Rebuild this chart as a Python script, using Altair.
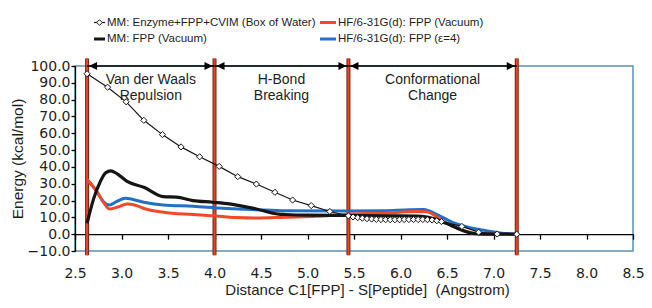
import altair as alt
import pandas as pd

# ---------------- data ----------------
SERIES = ["MM: Enzyme+FPP+CVIM (Box of Water)", "MM: FPP (Vacuum)",
          "HF/6-31G(d): FPP (Vacuum)", "HF/6-31G(d): FPP (\u03b5=4)"]

mm_box_x = [2.63, 2.85, 3.05, 3.24, 3.44, 3.64, 3.84, 4.05, 4.25, 4.45, 4.65, 4.84, 5.04, 5.24, 5.44,
            5.49, 5.54, 5.59, 5.64, 5.69, 5.74, 5.79, 5.84, 5.89, 5.94, 5.99, 6.04, 6.09, 6.14, 6.19,
            6.24, 6.29, 6.34, 6.39, 6.44, 6.66, 6.84, 7.04, 7.25]
mm_box_y = [95.4, 87.4, 78.7, 67.7, 59.2, 51.9, 46.0, 40.3, 34.2, 29.8, 24.9, 20.3, 17.0, 13.5, 10.9,
            10.2, 9.8, 9.5, 9.2, 9.0, 8.8, 8.7, 8.6, 8.6, 8.6, 8.6, 8.7, 8.7, 8.7, 8.7,
            8.7, 8.6, 8.4, 8.0, 7.5, 4.6, 1.2, 0.1, 0.0]

mm_fpp_x = [2.63, 2.70, 2.77, 2.83, 2.885, 2.95, 3.06, 3.24, 3.45, 3.59, 3.77, 3.98, 4.16, 4.44,
            4.69, 4.76, 5.00, 5.43, 5.82, 6.17, 6.30, 6.49, 6.67, 6.80, 7.00, 7.25]
mm_fpp_y = [6.5, 21.0, 31.0, 36.5, 37.7, 36.0, 31.4, 27.9, 22.3, 22.0, 20.0, 19.0, 18.0, 15.1,
            11.9, 11.7, 11.3, 11.1, 10.9, 10.8, 10.0, 6.5, 2.2, 0.3, 0.0, 0.0]

hf_vac_x = [2.63, 2.74, 2.80, 2.87, 2.95, 3.06, 3.15, 3.24, 3.45, 3.77, 4.09, 4.23, 4.45, 4.76,
            5.10, 5.43, 5.82, 6.17, 6.28, 6.45, 6.67, 6.85, 7.05]
hf_vac_y = [32.5, 24.9, 19.5, 15.0, 16.0, 18.0, 17.2, 15.3, 13.1, 11.7, 10.5, 9.9, 9.6, 10.1,
            10.6, 11.9, 12.5, 13.5, 13.4, 8.0, 2.2, 0.2, 0.0]

hf_eps_x = [2.63, 2.74, 2.80, 2.87, 2.95, 3.04, 3.24, 3.45, 3.77, 4.09, 4.44, 4.76, 5.43, 5.82,
            6.10, 6.25, 6.40, 6.56, 6.67, 6.80, 6.91, 7.09, 7.25]
hf_eps_y = [32.5, 24.9, 19.6, 17.4, 19.5, 21.3, 19.0, 17.4, 16.6, 15.4, 14.6, 13.9, 13.8, 14.0,
            14.6, 14.7, 11.5, 7.0, 5.0, 3.2, 2.2, 0.6, 0.0]

boundaries = [2.63, 4.0, 5.44, 7.25]
region_labels = ["Van der Waals\nRepulsion", "H-Bond\nBreaking", "Conformational\nChange"]

x_ticks = [2.5, 3.0, 3.5, 4.0, 4.5, 5.0, 5.5, 6.0, 6.5, 7.0, 7.5, 8.0, 8.5]
y_ticks = [-10, 0, 10, 20, 30, 40, 50, 60, 70, 80, 90, 100]

X_TITLE = "Distance C1[FPP] - S[Peptide]\u00a0 (Angstrom)"
Y_TITLE = "Energy (kcal/mol)"

# ---------------- styling ----------------
W, H = 558, 185
PAD = {"left": 67, "top": 58, "right": 11, "bottom": 49}
LBL_FONT = "DejaVu Sans"
FONT = "Liberation Sans"
TXT = "#1e1e1e"
BLACK = "#151515"
RED = "#f04a2a"
BLUE = "#2170c6"
BORDER = "#5592b3"

xs = alt.Scale(domain=[2.5, 8.5], nice=False, zero=False)
ys = alt.Scale(domain=[-10, 100], nice=False, zero=False)
zero_offset = -(H * 10.0 / 110.0)

x_axis = alt.Axis(values=x_ticks, format=".1f", offset=zero_offset, tickSize=5,
                  labelPadding=27, labelFlush=False, grid=False, domainColor="black",
                  tickColor="black", domainWidth=1.3, tickWidth=1.3, labelFont=LBL_FONT,
                  labelFontSize=14, labelColor=TXT, title=X_TITLE, titleFont=FONT,
                  titleFontSize=15, titleFontWeight="normal", titleColor=TXT,
                  titlePadding=2, titleX=292)
y_axis = alt.Axis(values=y_ticks, format=".1f", tickSize=4, labelPadding=1, grid=False,
                  labelFlush=False, domainColor="black", tickColor="black", domainWidth=1.3,
                  tickWidth=1.3, labelFont=LBL_FONT, labelFontSize=14, labelColor=TXT,
                  title=Y_TITLE, titleFont=FONT, titleFontSize=15.5, titleFontWeight="normal",
                  titleColor=TXT, titlePadding=2)

X = alt.X("x:Q", scale=xs, axis=x_axis)
Y = alt.Y("y:Q", scale=ys, axis=y_axis)


def df(xv, yv):
    return pd.DataFrame({"x": xv, "y": yv})


# boundary lines
bdf = pd.DataFrame({"x": boundaries})
b_outer = alt.Chart(bdf).mark_rule(color="#6e2614", strokeWidth=4).encode(
    x=X, y=alt.YDatum(104.5, scale=ys, axis=y_axis), y2=alt.datum(-12.5))
b_inner = alt.Chart(bdf).mark_rule(color="#ec4520", strokeWidth=2).encode(
    x=X, y=alt.YDatum(104.5, scale=ys, axis=y_axis), y2=alt.datum(-12.5))

# arrows
adf = pd.DataFrame({"x": boundaries[:-1], "x_end": boundaries[1:],
                    "label": region_labels})
adf["mid"] = (adf["x"] + adf["x_end"]) / 2
arrow_line = alt.Chart(adf).mark_rule(color="black", strokeWidth=1.5).encode(
    x=X, x2="x_end:Q", y=alt.YDatum(100, scale=ys, axis=y_axis))
head_left = alt.Chart(adf).mark_point(
    shape="M0.5,0L2.5,-1L2.5,1Z", filled=True, color="black", size=64, opacity=1).encode(
    x=X, y=alt.YDatum(100, scale=ys, axis=y_axis))
head_right = alt.Chart(adf).mark_point(
    shape="M-0.5,0L-2.5,-1L-2.5,1Z", filled=True, color="black", size=64, opacity=1).encode(
    x=alt.X("x_end:Q", scale=xs, axis=x_axis), y=alt.YDatum(100, scale=ys, axis=y_axis))
region_text = alt.Chart(adf).mark_text(
    font=FONT, fontSize=14, color=TXT, align="center", baseline="top",
    lineBreak="\n", lineHeight=16.5).encode(
    x=alt.X("mid:Q", scale=xs, axis=x_axis), y=alt.YDatum(96.0, scale=ys, axis=y_axis),
    text="label:N")

# series
l_eps = alt.Chart(df(hf_eps_x, hf_eps_y)).mark_line(
    color=BLUE, strokeWidth=3, interpolate="monotone").encode(x=X, y=Y)
l_vac = alt.Chart(df(hf_vac_x, hf_vac_y)).mark_line(
    color=RED, strokeWidth=3, interpolate="monotone").encode(x=X, y=Y)
l_fpp = alt.Chart(df(mm_fpp_x, mm_fpp_y)).mark_line(
    color=BLACK, strokeWidth=3.2, interpolate="monotone").encode(x=X, y=Y)
l_box = alt.Chart(df(mm_box_x, mm_box_y)).mark_line(
    color=BLACK, strokeWidth=1.2).encode(x=X, y=Y)
p_box = alt.Chart(df(mm_box_x, mm_box_y)).mark_point(
    shape="diamond", filled=True, fill="white", stroke=BLACK, strokeWidth=1,
    size=38, opacity=1).encode(x=X, y=Y)

# legend (manual, above plot)
one = alt.Data(values=[{}])
ROW1, ROW2 = -43.5, -27
LCOL, RCOL = 19, 245
SYM_W = 11
RSYM_W = 16


def leg_line(x0, w, yv, color, sw):
    return alt.Chart(one).mark_rule(color=color, strokeWidth=sw).encode(
        x=alt.value(x0), x2=alt.value(x0 + w), y=alt.value(yv))


def leg_text(x0, yv, t):
    return alt.Chart(one).mark_text(
        text=t, font=FONT, fontSize=11.5, color=TXT, align="left",
        baseline="middle").encode(x=alt.value(x0), y=alt.value(yv))


legend = [
    leg_line(LCOL, SYM_W, ROW1, BLACK, 1.2),
    alt.Chart(one).mark_point(shape="diamond", filled=True, fill="white", stroke=BLACK,
                              strokeWidth=1, size=32, opacity=1).encode(
        x=alt.value(LCOL + SYM_W / 2), y=alt.value(ROW1)),
    leg_text(LCOL + SYM_W + 2, ROW1, SERIES[0]),
    leg_line(LCOL, SYM_W, ROW2, BLACK, 3),
    leg_text(LCOL + SYM_W + 2, ROW2, SERIES[1]),
    leg_line(RCOL, RSYM_W, ROW1, RED, 3),
    leg_text(RCOL + RSYM_W + 2, ROW1, SERIES[2]),
    leg_line(RCOL, RSYM_W, ROW2, BLUE, 3),
    leg_text(RCOL + RSYM_W + 2, ROW2, SERIES[3]),
]

chart = alt.layer(
    b_outer, b_inner, arrow_line, head_left, head_right, region_text,
    l_eps, l_vac, l_fpp, l_box, p_box, *legend
).properties(
    width=W, height=H,
    autosize=alt.AutoSizeParams(type="none"),
    padding=PAD,
    background="white",
).configure_view(stroke=BORDER, strokeWidth=1.5)

chart.save("out.html", embed_options={"renderer": "svg", "actions": False})
